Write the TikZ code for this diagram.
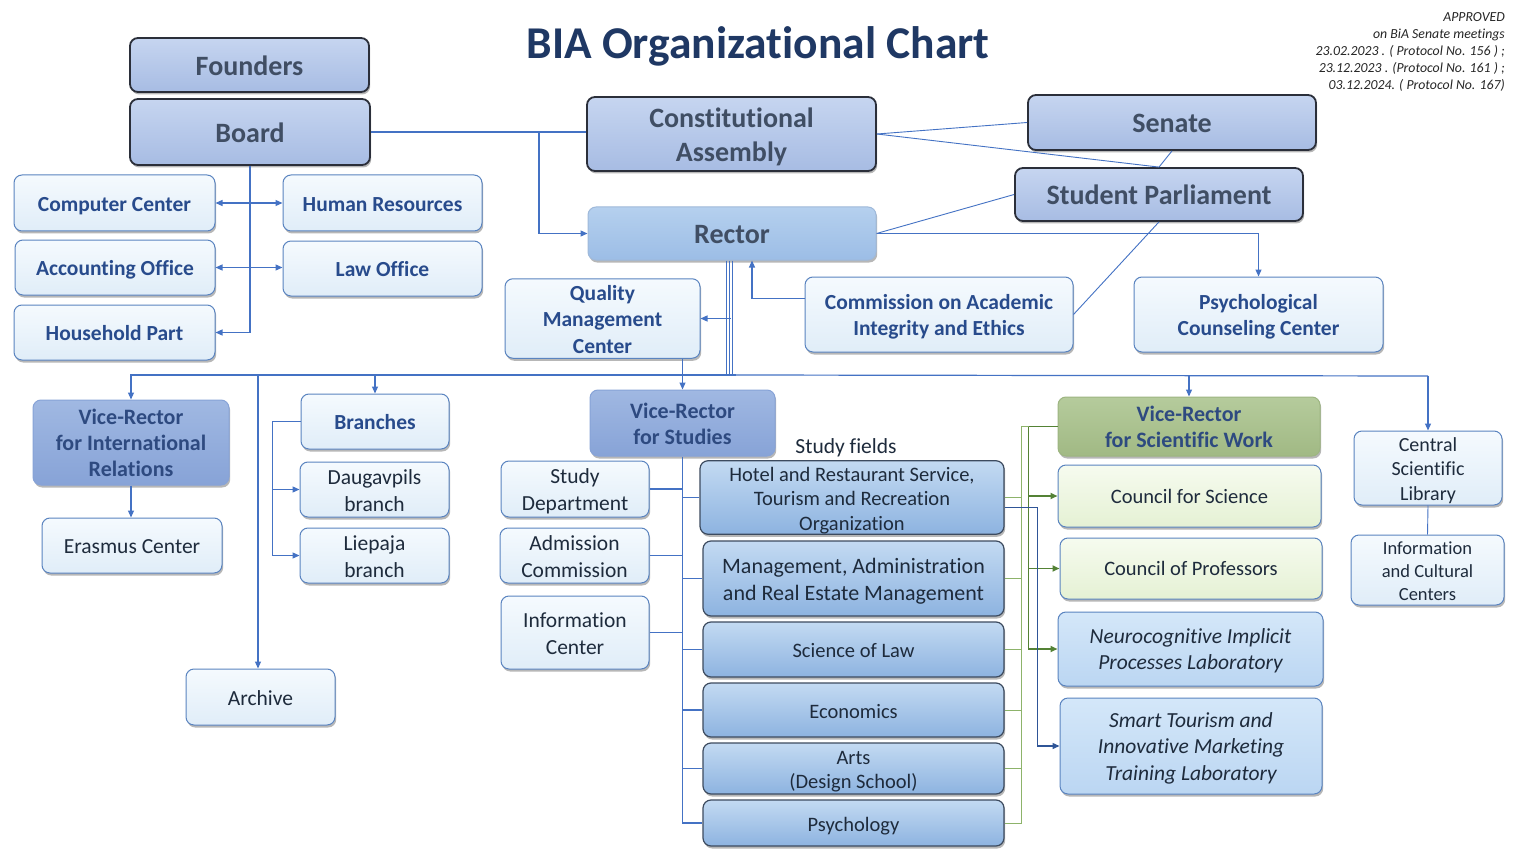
\documentclass[tikz,border=0pt]{standalone}
\usepackage{fontspec}
\setmainfont{Carlito}[Ligatures=NoCommon]
\usetikzlibrary{shadows,arrows.meta}

\definecolor{cBlue}{HTML}{4472C4}
\definecolor{cGreen}{HTML}{548235}
\definecolor{cLGreen}{HTML}{8DB36A}
\definecolor{cDBlue}{HTML}{2F5597}
\definecolor{dkBorder}{HTML}{2B2F3A}
\definecolor{dkTop}{HTML}{C6D5F0}
\definecolor{dkBot}{HTML}{A7BCE3}
\definecolor{slate}{HTML}{404E64}
\definecolor{rTop}{HTML}{B5D0EE}
\definecolor{rBot}{HTML}{9CBDE6}
\definecolor{rBorder}{HTML}{9FB9DA}
\definecolor{lTop}{HTML}{F5FAFE}
\definecolor{lBot}{HTML}{E0EDF8}
\definecolor{lBorder}{HTML}{5A84C0}
\definecolor{lText}{HTML}{284B8C}
\definecolor{rText}{HTML}{1E2B3C}
\definecolor{vTop}{HTML}{A0B8E2}
\definecolor{vBot}{HTML}{87A3D7}
\definecolor{vText}{HTML}{2E4A80}
\definecolor{fTop}{HTML}{C3DAF2}
\definecolor{fBot}{HTML}{8DB3E0}
\definecolor{fBorder}{HTML}{3D4B5F}
\definecolor{gTop}{HTML}{B5CB9C}
\definecolor{gBot}{HTML}{A1B984}
\definecolor{gBorder}{HTML}{9DB581}
\definecolor{cTop}{HTML}{F6FBEF}
\definecolor{cBot}{HTML}{E5F1D4}
\definecolor{labTop}{HTML}{D4E7F9}
\definecolor{labBot}{HTML}{BBD6F2}
\definecolor{titleC}{HTML}{1F3864}

\newcommand\bxdrop{2.5pt}
\newcommand\fDk{\fontsize{28}{34}\selectfont\bfseries\def\bxdrop{3.7pt}}
\newcommand\fLB{\fontsize{21.5}{26.5}\selectfont\bfseries\def\bxdrop{2.8pt}}
\newcommand\fLR{\fontsize{21.5}{27}\selectfont\def\bxdrop{2.7pt}}
\newcommand\fFld{\fontsize{20.5}{24.5}\selectfont\def\bxdrop{3.3pt}}
\newcommand\fCs{\fontsize{20.5}{24.5}\selectfont\def\bxdrop{2.5pt}}
\newcommand\fMg{\fontsize{22}{27}\selectfont\def\bxdrop{2.7pt}}
\newcommand\fVR{\fontsize{22}{26}\selectfont\bfseries\def\bxdrop{2.9pt}}
\newcommand\fLab{\fontsize{21.5}{26.5}\selectfont\itshape\def\bxdrop{2.4pt}}
\newcommand\fCsl{\fontsize{20}{24.5}\selectfont\def\bxdrop{3pt}}
\newcommand\fIcc{\fontsize{18.5}{23}\selectfont\def\bxdrop{2.4pt}}

\newcommand\obox[7]{%
  \pgfmathsetmacro\bxw{#5-#3}\pgfmathsetmacro\bxh{#6-#4}%
  \pgfmathsetmacro\bxx{(#3+#5)/2}\pgfmathsetmacro\bxy{(#4+#6)/2}%
  \node[#2, minimum width=\bxw pt, minimum height=\bxh pt] (#1) at (\bxx,\bxy)
    {\raisebox{-\bxdrop}[\height][\depth]{\begin{tabular}{@{}c@{}}#7\end{tabular}}};}

\tikzset{
  >={Triangle[length=7pt,width=6pt]},
  base/.style={rounded corners=8pt, align=center, inner sep=0pt,
    drop shadow={shadow xshift=1.2pt,shadow yshift=-2.5pt,opacity=0.4,fill=black!70}},
  dkbox/.style={base, draw=dkBorder, line width=1.8pt, top color=dkTop, bottom color=dkBot, text=slate, font=\fDk},
  rbox/.style={base, draw=rBorder, line width=1pt, top color=rTop, bottom color=rBot, text=slate, font=\fDk},
  lbb/.style={base, draw=lBorder, line width=1pt, top color=lTop, bottom color=lBot, text=lText, font=\fLB},
  lbr/.style={base, draw=lBorder, line width=1pt, top color=lTop, bottom color=lBot, text=rText, font=\fLR},
  vrbox/.style={base, draw=vBot, line width=1pt, top color=vTop, bottom color=vBot, text=vText, font=\fVR},
  fbox/.style={base, draw=fBorder, line width=1.2pt, top color=fTop, bottom color=fBot, text=rText, font=\fFld},
  gbox/.style={base, draw=gBorder, line width=1pt, top color=gTop, bottom color=gBot, text=vText, font=\fVR},
  cbox/.style={base, draw=lBorder, line width=1pt, top color=cTop, bottom color=cBot, text=rText, font=\fCs},
  labbox/.style={base, draw=lBorder, line width=1pt, top color=labTop, bottom color=labBot, text=rText, font=\fLab},
  ln/.style={draw=cBlue, line width=1.2pt},
  lnthick/.style={draw=cBlue, line width=2.4pt},
  lnthin/.style={draw=cBlue, line width=0.9pt},
  gln/.style={draw=cGreen, line width=1.8pt},
  lgln/.style={draw=cLGreen, line width=1pt},
  dbln/.style={draw=cDBlue, line width=1.4pt},
}

\begin{document}
\begin{tikzpicture}[x=1pt,y=-1pt]
\useasboundingbox[fill=white] (0,0) rectangle (1515,853);

% title and note
\node[font=\fontsize{45.5}{50}\selectfont\bfseries, text=titleC] (title) at (758,46) {BIA Organizational Chart};
\node[anchor=north east, align=right, font=\fontsize{13.8}{17}\selectfont\itshape, text=black!85, inner sep=0pt] (appr) at (1505,12)
 {APPROVED\\ on BiA Senate meetings\\ 23.02.2023 . ( Protocol No. 156 ) ;\\ 23.12.2023 . (Protocol No. 161 ) ;\\ 03.12.2024. ( Protocol No. 167)};

% boxes
\obox{founders}{dkbox}{130}{38}{369}{92}{Founders}
\obox{board}{dkbox}{130}{99}{370}{165}{Board}
\obox{ca}{dkbox}{587}{97}{876}{171}{Constitutional\\Assembly}
\obox{senate}{dkbox}{1028}{95}{1316}{150}{Senate}
\obox{sp}{dkbox}{1015}{168}{1303}{221}{Student Parliament}
\obox{rector}{rbox}{588}{207}{876}{260}{Rector}
\obox{cc}{lbb}{14}{175}{215}{231}{Computer Center}
\obox{hr}{lbb}{283}{175}{482}{231}{Human Resources}
\obox{acc}{lbb}{15}{240}{215}{295}{Accounting Office}
\obox{law}{lbb}{283}{241}{482}{296}{Law Office}
\obox{hh}{lbb}{14}{305}{215}{360}{Household Part}
\obox{qmc}{lbb}{505}{281}{700}{356}{Quality\\Management\\Center}
\obox{comm}{lbb}{805}{277}{1073}{352}{Commission on Academic\\Integrity and Ethics}
\obox{psych}{lbb}{1134}{277}{1383}{352}{Psychological\\Counseling Center}
\obox{vrir}{vrbox}{33}{400}{229}{485}{Vice-Rector\\for International\\Relations}
\obox{erasmus}{lbr}{42}{518}{222}{573}{Erasmus Center}
\obox{branches}{lbb}{301}{394}{449}{449}{Branches}
\obox{daug}{lbr}{300}{462}{449}{517}{Daugavpils\\branch}
\obox{liep}{lbr}{300}{528}{449}{583}{Liepaja\\branch}
\obox{archive}{lbr}{186}{669}{335}{725}{Archive}
\obox{vrs}{vrbox}{590}{390}{775}{456}{Vice-Rector\\for Studies}
\obox{sd}{lbr}{501}{461}{649}{517}{Study\\Department}
\obox{adm}{lbr}{500}{528}{649}{583}{Admission\\Commission}
\obox{info}{lbr}{501}{596}{649}{669}{Information\\Center}
\obox{hotel}{fbox}{700}{461}{1004}{534}{Hotel and Restaurant Service,\\Tourism and Recreation\\Organization}
\obox{mgmt}{fbox,font=\fMg}{703}{541}{1004}{616}{Management, Administration\\and Real Estate Management}
\obox{lawf}{fbox}{703}{622}{1004}{677}{Science of Law}
\obox{econ}{fbox}{703}{683}{1004}{737}{Economics}
\obox{arts}{fbox}{703}{743}{1004}{794}{Arts\\(Design School)}
\obox{psy}{fbox}{703}{800}{1004}{846}{Psychology}
\obox{vrsw}{gbox}{1058}{397}{1320}{456}{Vice-Rector\\for Scientific Work}
\obox{cs}{cbox}{1058}{465}{1321}{527}{Council for Science}
\obox{cp}{cbox}{1060}{538}{1322}{599}{Council of Professors}
\obox{neuro}{labbox}{1058}{612}{1323}{686}{Neurocognitive Implicit\\Processes Laboratory}
\obox{smart}{labbox}{1060}{698}{1322}{794}{Smart Tourism and\\Innovative Marketing\\Training Laboratory}
\obox{csl}{lbr,font=\fCsl}{1354}{431}{1502}{505}{Central\\Scientific\\Library}
\obox{icc}{lbr,font=\fIcc}{1351}{535}{1504}{605}{Information\\and Cultural\\Centers}

\node[font=\fLR, text=rText] (sflabel) at (846,448) {Study fields};

% top connectors
\draw[ln] (board.east) -- (ca.west |- board.east);
\draw[ln,->] ([xshift=168pt]board.east) |- (rector.west);
\draw[lnthin] (ca.east) -- (senate.west);
\draw[lnthin] (ca.east) -- (sp.north);
\draw[lnthin] (senate.south) -- (sp.north);
\draw[lnthin] (rector.east) -- (sp.west);
\draw[lnthin] (sp.south) -- (comm.east);
\draw[ln,->] (rector.east) -| (psych.north);
\draw[ln,->] ([yshift=16pt]comm.west) -| ([xshift=20pt]rector.south);

% board staff
\draw[ln,->] (board.south) |- (hh.east);
\draw[ln,<->] (cc.east) -- (cc.east -| hr.west);
\draw[ln,<->] (acc.east) -- (acc.east -| law.west);

% rector down to bus
\coordinate (busL) at (258,375);
\coordinate (busM) at (736,375);
\coordinate (busR) at (1428,376);
\draw[lnthin] ([xshift=-6pt]rector.south) -- ([xshift=-6pt]rector.south |- busL);
\draw[lnthin] ([xshift=-3pt]rector.south) -- ([xshift=-3pt]rector.south |- busL);
\draw[lnthin] ([xshift=0pt]rector.south) -- ([xshift=0pt]rector.south |- busL);
\draw[ln,->] ([xshift=-1pt]rector.south |- qmc.east) -- (qmc.east);
\draw[lnthick] (busL) -- (busM);
\draw[ln,->] (busL) -| (vrir.north);
\draw[ln,->] (busL) -- (busL |- archive.north);
\draw[ln,->] (branches.north |- busL) -- (branches.north);
\draw[ln,->] (vrs.north |- qmc.south) -- (vrs.north);
\draw[ln] (busM) -- (busR);
\draw[ln,->] (busR) -- (csl.north);
\draw[ln,->] (vrsw.north |- busR) -- (vrsw.north);

% lower left
\draw[ln,->] (vrir.south) -- (vrir.south |- erasmus.north);
\draw[ln,->] (branches.west) -- ++(-28,0) |- (daug.west);
\draw[ln,->] ([xshift=-28pt]branches.west) |- (liep.west);

% vice-rector for studies
\draw[ln] (vrs.south) -- (vrs.south |- psy.west) -- (psy.west);
\draw[ln] (sd.east) -- (sd.east -| vrs.south);
\draw[ln] (adm.east) -- (adm.east -| vrs.south);
\draw[ln] (info.east) -- (info.east -| vrs.south);
\draw[ln] (hotel.west) -- (hotel.west -| vrs.south);
\draw[ln] (mgmt.west) -- (mgmt.west -| vrs.south);
\draw[ln] (lawf.west) -- (lawf.west -| vrs.south);
\draw[ln] (econ.west) -- (econ.west -| vrs.south);
\draw[ln] (arts.west) -- (arts.west -| vrs.south);

% green (scientific work)
\coordinate (g1) at ([xshift=-29pt]vrsw.west);
\coordinate (g2) at ([xshift=-36pt]vrsw.west);
\draw[lgln] (g1) -- (g2) -- (g2 |- psy.east) -- (psy.east);
\draw[lgln] (hotel.east) -- (hotel.east -| g2);
\draw[lgln] (mgmt.east) -- (mgmt.east -| g2);
\draw[lgln] (lawf.east) -- (lawf.east -| g2);
\draw[lgln] (econ.east) -- (econ.east -| g2);
\draw[lgln] (arts.east) -- (arts.east -| g2);
\draw[gln] (vrsw.west) -- (g1);
\draw[gln,->] (g1) |- (cs.west);
\draw[gln,->] (g1) |- (cp.west);
\draw[gln,->] (g1) |- (neuro.west);
\draw[dbln,->] ([yshift=-10pt]hotel.east) -| ([xshift=-22pt]smart.west) -- (smart.west);

% library
\draw[lnthin] (csl.south) -- (icc.north);
\end{tikzpicture}
\end{document}
